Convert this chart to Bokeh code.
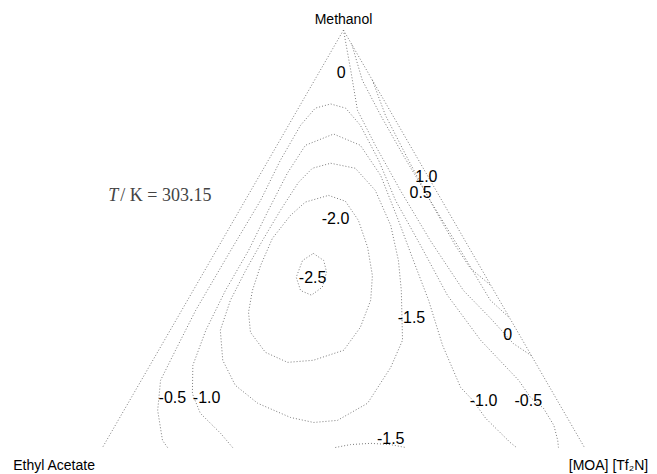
import math
from bokeh.plotting import figure
from bokeh.models import Range1d, Label
from bokeh.core.properties import value
from bokeh.embed import file_html
from bokeh.resources import INLINE

# ---- data (mole fractions: x_methanol, x_IL) ----
vertex_names = ["Methanol", "Ethyl Acetate", "[MOA] [Tf\u2082N]"]
vertex_meoh = [1.0, 0.0, 0.0]
vertex_il = [0.0, 0.0, 1.0]
temperature = "303.15"

edge_left_meoh = [1.0, 0.0]
edge_left_il = [0.0, 0.0]
edge_right_meoh = [1.0, 0.0]
edge_right_il = [0.0, 1.0]

lvl_m25_meoh = [0.465, 0.448, 0.420, 0.384, 0.365, 0.376, 0.408, 0.448, 0.465]
lvl_m25_il = [0.205, 0.235, 0.255, 0.264, 0.251, 0.223, 0.198, 0.191, 0.205]

lvl_m20_meoh = [0.604, 0.590, 0.544, 0.480, 0.412, 0.353, 0.288, 0.233, 0.209, 0.204,
                0.228, 0.276, 0.324, 0.376, 0.436, 0.501, 0.556, 0.588, 0.604]
lvl_m20_il = [0.167, 0.209, 0.259, 0.310, 0.354, 0.380, 0.391, 0.384, 0.333, 0.282,
              0.224, 0.169, 0.141, 0.123, 0.110, 0.102, 0.112, 0.127, 0.167]

lvl_m15_meoh = [0.681, 0.669, 0.616, 0.532, 0.448, 0.376, 0.257, 0.192, 0.106, 0.065, 0.060,
                0.072, 0.106, 0.149, 0.209, 0.281, 0.353, 0.424, 0.496, 0.568, 0.635, 0.669, 0.681]
lvl_m15_il = [0.133, 0.190, 0.258, 0.332, 0.390, 0.432, 0.494, 0.502, 0.497, 0.455, 0.408,
              0.354, 0.269, 0.201, 0.145, 0.104, 0.089, 0.085, 0.084, 0.085, 0.089, 0.101, 0.133]

lvl_m15b_meoh = [0.000, 0.007, 0.010, 0.007, 0.000]
lvl_m15b_il = [0.483, 0.511, 0.551, 0.594, 0.629]

lvl_m10_meoh = [0.000, 0.034, 0.082, 0.129, 0.197, 0.281, 0.376, 0.472, 0.568, 0.657, 0.724, 0.751,
                0.724, 0.652, 0.544, 0.436, 0.353, 0.245, 0.144, 0.113, 0.070, 0.012, 0.000]
lvl_m10_il = [0.270, 0.228, 0.162, 0.122, 0.089, 0.074, 0.067, 0.067, 0.060, 0.055, 0.059, 0.104,
              0.173, 0.251, 0.342, 0.431, 0.500, 0.583, 0.671, 0.712, 0.760, 0.840, 0.859]

lvl_m05_meoh = [0.000, 0.017, 0.089, 0.161, 0.233, 0.329, 0.472, 0.592, 0.688, 0.772, 0.813, 0.823,
                0.813, 0.772, 0.688, 0.592, 0.484, 0.365, 0.257, 0.161, 0.120, 0.094, 0.053, 0.017, 0.000]
lvl_m05_il = [0.135, 0.116, 0.070, 0.040, 0.035, 0.029, 0.030, 0.032, 0.025, 0.025, 0.035, 0.062,
              0.098, 0.149, 0.229, 0.312, 0.418, 0.533, 0.656, 0.783, 0.828, 0.868, 0.910, 0.936, 0.946]

lvl_0_meoh = [1.000, 0.904, 0.808, 0.724, 0.616, 0.496, 0.376, 0.309, 0.249, 0.220]
lvl_0_il = [0.000, 0.063, 0.125, 0.204, 0.310, 0.432, 0.561, 0.651, 0.728, 0.780]

lvl_p05_meoh = [0.965, 0.880, 0.796, 0.700, 0.592, 0.472, 0.353, 0.310]
lvl_p05_il = [0.035, 0.099, 0.179, 0.274, 0.384, 0.507, 0.628, 0.690]

lvl_p10_meoh = [0.880, 0.796, 0.688, 0.580, 0.484, 0.429, 0.388]
lvl_p10_il = [0.120, 0.189, 0.291, 0.395, 0.490, 0.549, 0.612]

label_text = ["0", "1.0", "0.5", "-2.0", "-2.5", "-1.5", "0", "-1.0", "-0.5", "-0.5", "-1.0", "-1.5"]
label_meoh = [0.899, 0.650, 0.612, 0.549, 0.408, 0.312, 0.273, 0.113, 0.115, 0.120, 0.120, 0.022]
label_il = [0.046, 0.347, 0.354, 0.209, 0.232, 0.485, 0.704, 0.734, 0.826, 0.085, 0.156, 0.587]

H = math.sqrt(3) / 2


def to_xy(meoh, il):
    xs = [b + a / 2 for a, b in zip(meoh, il)]
    ys = [a * H for a in meoh]
    return xs, ys


p = figure(width=657, height=474, output_backend="svg", toolbar_location=None,
           x_range=Range1d(-0.2116, 1.1515), y_range=Range1d(-0.0560, 0.9274),
           x_axis_location=None, y_axis_location=None, min_border=0)
p.grid.visible = False
p.outline_line_color = None
p.background_fill_color = "white"
p.border_fill_color = "white"

line_kw = dict(line_color="#7a7a7a", line_width=1, line_dash="1 2")

for m, i in [(edge_left_meoh, edge_left_il), (edge_right_meoh, edge_right_il),
             (lvl_m25_meoh, lvl_m25_il), (lvl_m20_meoh, lvl_m20_il),
             (lvl_m15_meoh, lvl_m15_il), (lvl_m15b_meoh, lvl_m15b_il),
             (lvl_m10_meoh, lvl_m10_il), (lvl_m05_meoh, lvl_m05_il),
             (lvl_0_meoh, lvl_0_il), (lvl_p05_meoh, lvl_p05_il), (lvl_p10_meoh, lvl_p10_il)]:
    xs, ys = to_xy(m, i)
    p.line(xs, ys, **line_kw)

lx, ly = to_xy(label_meoh, label_il)
p.text(lx, ly, text=label_text, text_font=value("Liberation Sans"), text_font_size="16px",
       text_align="center", text_baseline="middle", text_color="black")

vx, vy = to_xy(vertex_meoh, vertex_il)
p.text([vx[0]], [vy[0]], text=[vertex_names[0]], text_font=value("Liberation Sans"),
       text_font_size="14px", text_align="center", text_baseline="middle", y_offset=-11)
p.text([vx[1]], [vy[1]], text=[vertex_names[1]], text_font=value("Liberation Sans"),
       text_font_size="14px", text_align="center", text_baseline="middle", x_offset=-48, y_offset=17)
p.text([vx[2]], [vy[2]], text=[vertex_names[2]], text_font=value("Liberation Sans"),
       text_font_size="14px", text_align="center", text_baseline="middle", x_offset=24, y_offset=17)

# temperature annotation
p.add_layout(Label(x=0.012, y=0.523, text="T", text_font="Liberation Serif", text_font_style="italic",
                   text_font_size="18px", text_align="left", text_baseline="middle"))
p.add_layout(Label(x=0.037, y=0.523, text="/ K = " + temperature, text_font="Liberation Serif",
                   text_font_size="18px", text_align="left", text_baseline="middle"))

open("out.html", "w").write(file_html(p, INLINE))
